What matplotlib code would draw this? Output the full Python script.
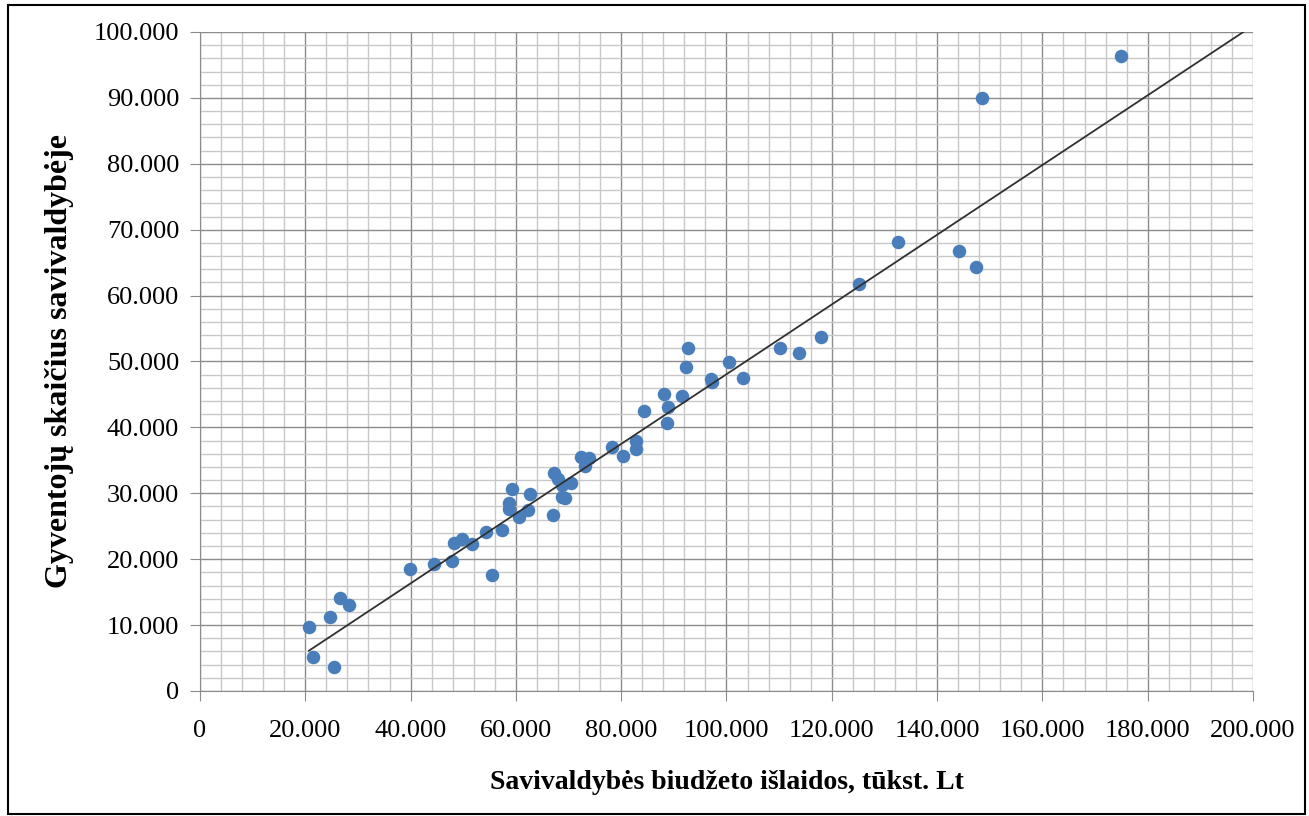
import numpy as np
import matplotlib
matplotlib.use('Agg')
import matplotlib.pyplot as plt
from matplotlib.ticker import MultipleLocator, FuncFormatter
from matplotlib.patches import Rectangle

# savivaldybiu duomenys (nuskaityta is grafiko)
islaidos = [20700, 21460, 25390, 24630, 26590, 28300, 39830, 44440, 47800, 48310,
            49760, 51660, 54320, 55460, 57420, 58620, 58750, 59320, 60650, 62360,
            62630, 67100, 67240, 68060, 68760, 68820, 69390, 70410, 72310, 73180,
            73830, 78200, 80280, 82750, 82870, 84270, 88070, 88700, 88830, 91490,
            92250, 92750, 97120, 97300, 100530, 103080, 110160, 113710, 117950, 125230,
            132630, 144160, 147450, 148590, 174870]
gyventojai = [9760, 5160, 3600, 11180, 14160, 13050, 18560, 19220, 19780, 22460,
              23070, 22310, 24170, 17600, 24430, 28480, 27620, 30650, 26400, 27510,
              29940, 26660, 33030, 32120, 29390, 31300, 29290, 31610, 35550, 34140,
              35360, 37070, 35700, 36680, 37890, 42450, 45070, 40620, 43100, 44720,
              49100, 52100, 47400, 46900, 49880, 47540, 52050, 51340, 53720, 61710,
              68180, 66770, 64340, 90030, 96400]

# tendencijos linija (Excel trendline, nuskaityta is grafiko)
trend_k = 0.529
trend_b = -4830

x_label = 'Savivaldybės biudžeto išlaidos, tūkst. Lt'
y_label = 'Gyventojų skaičius savivaldybėje'

plt.rcParams['font.family'] = ['Liberation Serif', 'DejaVu Serif']

fig = plt.figure(figsize=(13.09, 8.16), dpi=100)
ax = fig.add_axes([0.1528, 0.1532, 0.8044, 0.8076])

# tinklelis
ax.xaxis.set_major_locator(MultipleLocator(20000))
ax.xaxis.set_minor_locator(MultipleLocator(4000))
ax.yaxis.set_major_locator(MultipleLocator(10000))
ax.yaxis.set_minor_locator(MultipleLocator(2000))
ax.grid(which='minor', color='#c8c8c8', linewidth=1.0)
ax.grid(which='major', color='#8c8c8c', linewidth=1.0)
ax.set_axisbelow(True)

ax.scatter(islaidos, gyventojai, s=95, color='#4a7ebb', zorder=3, linewidths=0)

xs = np.array([min(islaidos), 200000])
ax.plot(xs, trend_k * xs + trend_b, color='#303030', linewidth=1.3, zorder=4)

ax.set_xlim(0, 200000)
ax.set_ylim(0, 100000)

fmt = FuncFormatter(lambda v, p: f'{int(v):,}'.replace(',', '.'))
ax.xaxis.set_major_formatter(fmt)
ax.yaxis.set_major_formatter(fmt)
ax.tick_params(which='major', length=7, color='#8c8c8c', labelsize=19)
ax.tick_params(axis='x', pad=14)
ax.tick_params(axis='y', pad=8)
ax.tick_params(which='minor', length=0)

for s in ['top', 'right']:
    ax.spines[s].set_visible(False)
for s in ['left', 'bottom']:
    ax.spines[s].set_color('#8c8c8c')

ax.set_xlabel(x_label, fontsize=20, fontweight='bold', labelpad=20)
ax.set_ylabel(y_label, fontsize=23, fontweight='bold', labelpad=14)

fig.patches.append(Rectangle((0.006, 0.002), 0.991, 0.992, transform=fig.transFigure,
                             fill=False, edgecolor='black', linewidth=1.5))

fig.savefig('out.png', dpi=100)
plt.close()
